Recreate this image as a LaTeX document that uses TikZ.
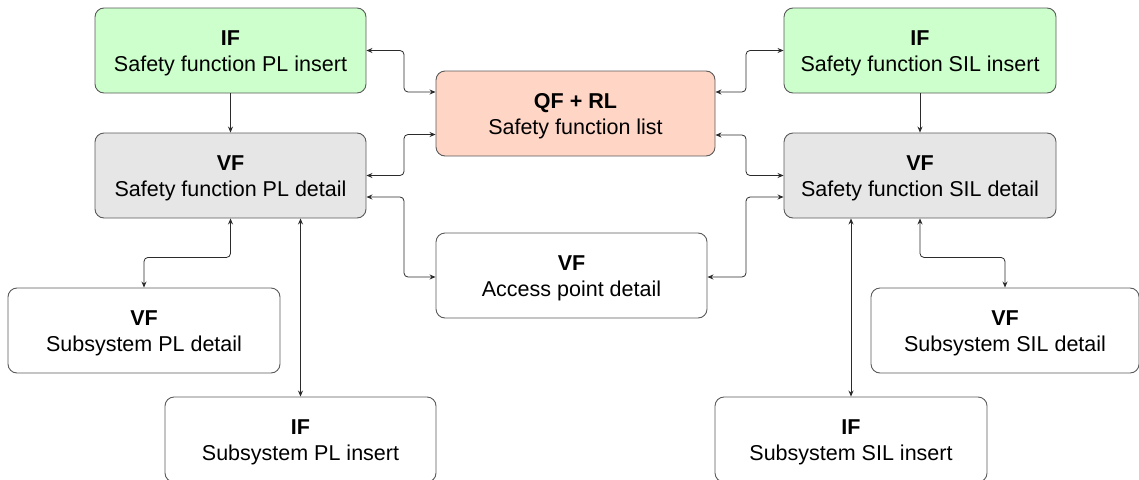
\documentclass[tikz,border=0pt]{standalone}
\usepackage{fontspec}
\setmainfont{Liberation Sans}
\usetikzlibrary{arrows.meta,calc}
\definecolor{ifgreen}{HTML}{CCFFCC}
\definecolor{vfgrey}{HTML}{E6E6E6}
\definecolor{qfred}{HTML}{FFD5C6}
\definecolor{boxline}{HTML}{5A5A5A}
\definecolor{linkc}{HTML}{2B2B2B}
% two-line box label: bold kind over the description
\newcommand{\boxlabel}[2]{\rule{0pt}{21pt}\textbf{#1}\\#2}
\begin{document}
\begin{tikzpicture}[x=1pt,y=-1pt,
  box/.style={draw=boxline, line width=0.9pt, rounded corners=9pt,
    minimum width=271pt, minimum height=85pt, align=center, inner sep=0pt,
    font=\fontsize{21.5}{26}\selectfont},
  tip/.tip={Stealth[length=6pt,width=5pt]},
  link/.style={draw=linkc, line width=0.8pt, rounded corners=4pt, tip-tip},
  feed/.style={draw=linkc, line width=0.8pt, -tip}]
\useasboundingbox (0,0) rectangle (1139,479);

% safety function list
\node[box, fill=qfred, minimum width=279pt] (qf) at (575.5,113.5) {\boxlabel{QF + RL}{Safety function list}};
\node[box, fill=white] (ap) at (571.5,275.5) {\boxlabel{VF}{Access point detail}};

% PL branch
\node[box, fill=ifgreen] (pli) at (230.5,50.5) {\boxlabel{IF}{Safety function PL insert}};
\node[box, fill=vfgrey] (pld) at (230.5,175.5) {\boxlabel{VF}{Safety function PL detail}};
\node[box, fill=white, minimum width=272pt] (spd) at (144,330.5) {\boxlabel{VF}{Subsystem PL detail}};
\node[box, fill=white] (spi) at (300.5,439.5) {\boxlabel{IF}{Subsystem PL insert}};

% SIL branch
\node[box, fill=ifgreen, minimum width=272pt] (sli) at (920,50.5) {\boxlabel{IF}{Safety function SIL insert}};
\node[box, fill=vfgrey, minimum width=272pt] (sld) at (920,175.5) {\boxlabel{VF}{Safety function SIL detail}};
\node[box, fill=white, minimum width=268pt] (ssd) at (1005,330.5) {\boxlabel{VF}{Subsystem SIL detail}};
\node[box, fill=white, minimum width=272pt] (ssi) at (851,439.5) {\boxlabel{IF}{Subsystem SIL insert}};

% routing columns between the outer boxes and the middle column
\coordinate (lx) at (404,0);
\coordinate (rx) at (746,0);

% port points on the box sides
\coordinate (qfL1) at ($(qf.west)+(0,-21.5)$);
\coordinate (qfL2) at ($(qf.west)+(0,21)$);
\coordinate (qfR1) at ($(qf.east)+(0,-21.5)$);
\coordinate (qfR2) at ($(qf.east)+(0,21.5)$);
\coordinate (pldE) at ($(pld.east)+(0,21.5)$);
\coordinate (sldW) at ($(sld.west)+(0,21.5)$);
\coordinate (apW) at ($(ap.west)+(0,1.5)$);
\coordinate (apE) at ($(ap.east)+(0,1.5)$);

% left side links
\draw[link] (pli.east) -- (pli.east -| lx) -- (qfL1 -| lx) -- (qfL1);
\draw[link] (pld.east) -- (pld.east -| lx) -- (qfL2 -| lx) -- (qfL2);
\draw[link] (pldE) -- (pldE -| lx) -- (apW -| lx) -- (apW);

% right side links
\draw[link] (sli.west) -- (sli.west -| rx) -- (qfR1 -| rx) -- (qfR1);
\draw[link] (sld.west) -- (sld.west -| rx) -- (qfR2 -| rx) -- (qfR2);
\draw[link] (sldW) -- (sldW -| rx) -- (apE -| rx) -- (apE);

% insert to detail
\draw[feed] (pli.south) -- (pld.north);
\draw[feed] (sli.south) -- (sld.north);

% details down to subsystems
\draw[link] (pld.south) -- ++(0,39) -| (spd.north);
\draw[link] (pld.south -| spi.north) -- (spi.north);
\draw[link] (sld.south) -- ++(0,39) -| (ssd.north);
\draw[link] (sld.south -| ssi.north) -- (ssi.north);
\end{tikzpicture}
\end{document}
